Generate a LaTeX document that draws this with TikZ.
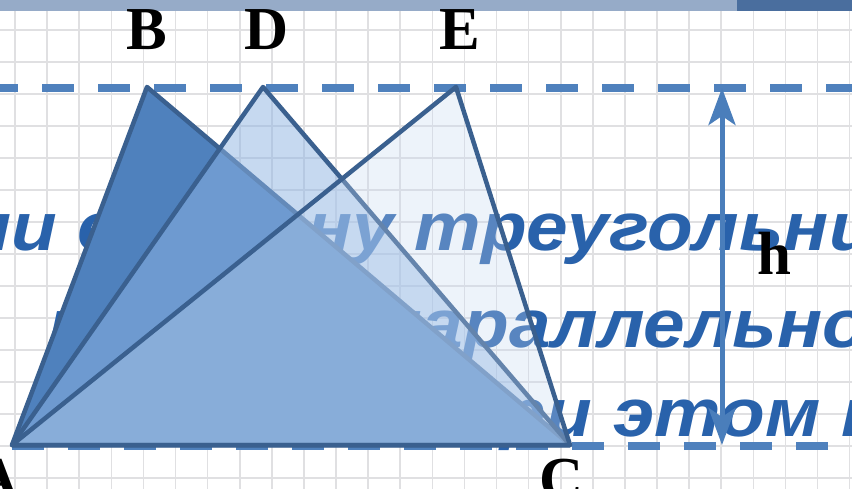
\documentclass[tikz,border=0pt]{standalone}
\usepackage{fontspec}
\setmainfont{Liberation Serif}
\newfontfamily\slidefont{Liberation Sans}
\usetikzlibrary{arrows.meta}

\definecolor{gridgray}{RGB}{224,224,226}
\definecolor{bandlight}{RGB}{150,171,200}
\definecolor{banddark}{RGB}{74,110,158}
\definecolor{slideblue}{RGB}{41,98,171}
\definecolor{levelblue}{RGB}{79,129,189}
\definecolor{edgeblue}{RGB}{58,96,143}
\definecolor{fillB}{RGB}{79,129,189}
\definecolor{fillD}{RGB}{142,180,227}
\definecolor{fillE}{RGB}{198,217,241}
\definecolor{heightblue}{RGB}{74,126,187}
\newcommand{\widetext}[1]{\scalebox{1.1}[1]{#1}}

\begin{document}
\begin{tikzpicture}[x=1pt,y=-1pt,
  lbl/.style={font=\fontsize{61}{61}\selectfont\bfseries,text=black,anchor=base,inner sep=0pt},
  bgtext/.style={font=\slidefont\fontsize{68}{68}\selectfont\bfseries\itshape,text=slideblue,anchor=base west,inner sep=0pt},
  tri/.style={draw=edgeblue,line width=4.5pt,line join=round},
  level/.style={draw=levelblue,line width=8pt,dash pattern=on 32pt off 24pt},
  harrow/.style={draw=heightblue,line width=5pt,
    {Stealth[length=37pt,width=27pt,inset=9pt]}-{Stealth[length=37pt,width=27pt,inset=9pt]}}]
  \clip (0,0) rectangle (852,489);
  \fill[white] (0,0) rectangle (852,489);
  % squared paper
  \foreach \gx in {15,47.1,...,860}
    \draw[gridgray,line width=1.6pt] (\gx,0) -- (\gx,489);
  \foreach \gy in {30,62,...,489}
    \draw[gridgray,line width=1.6pt] (0,\gy) -- (852,\gy);
  \fill[bandlight] (0,0) rectangle (737,11);
  \fill[banddark] (737,0) rectangle (852,11);
  % slide text behind the figure
  \node[bgtext] (line1a) at (-34,251) {\widetext{ни е}};
  \node[bgtext] (line1b) at (307,251) {\widetext{ну треугольника}};
  \node[bgtext] (line2a) at (48,347) {\widetext{п}};
  \node[bgtext] (line2b) at (376,347) {\widetext{параллельно}};
  \node[bgtext] (line3) at (455,436) {\widetext{при этом п}};
  % parallel lines
  \coordinate (topL) at (-14,88);
  \coordinate (topR) at (870,88);
  \coordinate (botL) at (-44,446);
  \coordinate (botR) at (870,446);
  \draw[level] (topL) -- (topR);
  \draw[level] (botL) -- (botR);
  % triangles with common base AC
  \coordinate (A) at (12,445);
  \coordinate (C) at (570,445);
  \coordinate (B) at (147,87);
  \coordinate (D) at (263,87);
  \coordinate (E) at (456,87);
  \filldraw[tri,fill=fillB] (A) -- (B) -- (C) -- cycle;
  \filldraw[tri,fill=fillD,fill opacity=0.5] (A) -- (D) -- (C) -- cycle;
  \filldraw[tri,fill=fillE,fill opacity=0.3] (A) -- (E) -- (C) -- cycle;
  % height
  \coordinate (hTop) at (722,88);
  \coordinate (hBot) at (722,445);
  \draw[harrow] (hTop) -- (hBot);
  \node[lbl] (labelh) at (774,275) {h};
  % vertex labels
  \node[lbl] (labelB) at (147,50) {B};
  \node[lbl] (labelD) at (267,50) {D};
  \node[lbl] (labelE) at (460,50) {E};
  \node[lbl] (labelA) at (-2,499) {A};
  \node[lbl] (labelC) at (562,499) {C};
\end{tikzpicture}
\end{document}
